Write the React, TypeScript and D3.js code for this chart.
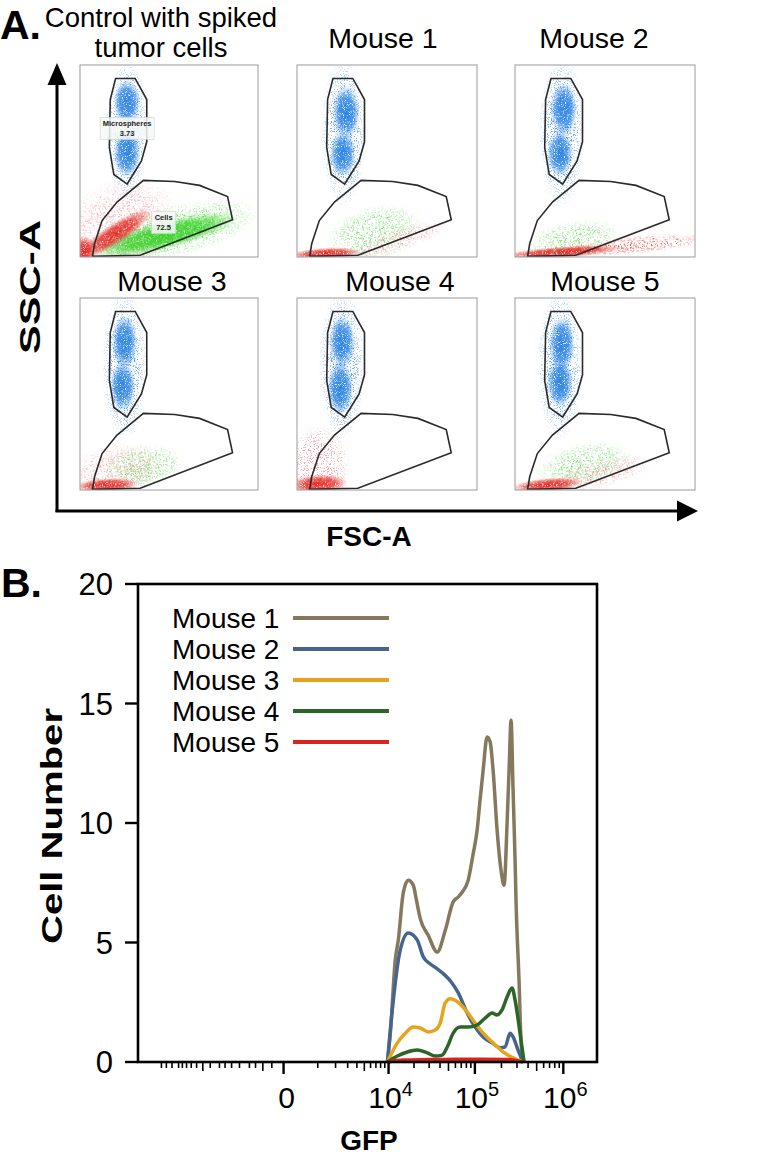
import React from "react";
import * as d3 from "d3";

// ---------------- Panel B data ----------------
const seriesNames = ["Mouse 1", "Mouse 2", "Mouse 3", "Mouse 4", "Mouse 5"];
const seriesColors = ["#85795d", "#45658f", "#e5a41c", "#2d6428", "#d7261e"];

const mouse1GFP = [9700, 10500, 12050, 13080, 15000, 17160, 19630, 21280, 23660, 29260, 37170, 45900, 56600, 64500, 71600, 83800, 95500, 106000, 114700, 124000, 137600, 148800, 160900, 178600, 198200, 214300, 231700, 243900, 257000, 270600, 285000, 292600, 316300, 332900, 350600];
const mouse1Count = [0, 1.2, 4.3, 5.1, 7.1, 7.6, 7.4, 6.8, 6.0, 5.3, 4.6, 5.5, 6.7, 6.9, 7.1, 7.6, 8.7, 9.7, 11.0, 12.2, 13.6, 13.4, 12.2, 9.7, 8.0, 7.4, 10.0, 12.2, 14.3, 11.4, 8.5, 6.7, 3.4, 0.9, 0];

const mouse2GFP = [9700, 11100, 13820, 17160, 21840, 25600, 30900, 37170, 43500, 52400, 64500, 81700, 100700, 124000, 156800, 193000, 220000, 250300, 270600, 308200, 350600];
const mouse2Count = [0, 2.2, 4.7, 5.4, 5.1, 4.4, 4.1, 3.9, 3.7, 3.4, 2.9, 2.05, 1.46, 1.05, 0.8, 0.6, 0.63, 1.2, 1.05, 0.5, 0];

const mouse3GFP = [9700, 12730, 15820, 19630, 23660, 29260, 35280, 40220, 45900, 52400, 64500, 81700, 100700, 124000, 160900, 208700, 270600, 350600];
const mouse3Count = [0, 0.8, 1.2, 1.46, 1.42, 1.26, 1.34, 1.63, 2.47, 2.65, 2.5, 2.09, 1.63, 1.21, 0.8, 0.42, 0.17, 0];

const mouse4GFP = [9700, 12730, 16700, 21840, 28500, 35280, 42400, 48400, 56600, 68000, 83800, 106000, 130700, 156800, 178600, 203100, 231700, 263600, 285000, 324500, 360000];
const mouse4Count = [0, 0.25, 0.42, 0.5, 0.38, 0.25, 0.29, 0.63, 1.21, 1.46, 1.46, 1.55, 1.84, 2.05, 1.97, 2.18, 2.72, 3.1, 2.6, 1.21, 0];

const mouse5GFP = [9700, 15000, 30000, 60000, 120000, 240000, 350600];
const mouse5Count = [0, 0.08, 0.1, 0.12, 0.12, 0.1, 0];

const seriesGFP = [mouse1GFP, mouse2GFP, mouse3GFP, mouse4GFP, mouse5GFP];
const seriesCount = [mouse1Count, mouse2Count, mouse3Count, mouse4Count, mouse5Count];

const yTicks = [0, 5, 10, 15, 20];
const xMajorTicks = [0, 1e4, 1e5, 1e6];
const xLabelBase = ["0", "10", "10", "10"];
const xLabelExp = ["", "4", "5", "6"];
const xMinorTicks = [
  -16000, -14000, -12000, -10000, -9000, -8000, -7000, -6000, -5000, -4000, -3000, -2500, -2000, -1500, -1000, -750, -500, -250,
  1000, 2000, 3000, 4000, 5000, 6000, 7000, 8000, 9000,
  20000, 30000, 40000, 50000, 60000, 70000, 80000, 90000,
  200000, 300000, 400000, 500000, 600000, 700000, 800000, 900000,
];

// ---------------- Panel A data ----------------
const panelTitles = [["Control with spiked", "tumor cells"], ["Mouse 1"], ["Mouse 2"], ["Mouse 3"], ["Mouse 4"], ["Mouse 5"]];
// gates in % of FSC / SSC scale
const beadGate = [[20, 93], [31, 93], [37.5, 82], [37.5, 60], [34.5, 50], [26.5, 38], [19, 43], [16.5, 57], [17, 82]];
const cellGate = [[7, 0.3], [8.2, 7], [12.4, 19], [20.8, 28.6], [35.6, 39.9], [53.2, 39.3], [67.2, 37.3], [82.9, 31.5], [85.7, 19.4], [33.8, 0.9]];
const gateLabels = [["Microspheres", "3.73"], ["Cells", "72.5"]];
const gateLabelPos = [[26.5, 67], [47, 18]];

// populations: [FSC%, SSC%, sdFSC, sdSSC, tiltDeg, kind]
type Blob = [number, number, number, number, number, string];
const controlPops: Blob[] = [
  [26.5, 66, 6.0, 19, 0, "beadScatter"],
  [26.4, 80.6, 3.8, 6.0, 0, "beadCore"],
  [26.4, 54.5, 3.8, 6.5, 0, "beadCore"],
  [22, 16, 18, 12, 25, "pinkSparse"],
  [52, 13, 26, 7, 14, "greenScatter"],
  [48, 11.5, 21, 3.8, 14, "greenCore"],
  [19.7, 12, 12, 2.8, 33, "redCore"],
  [2.5, 3, 2.8, 4.0, 0, "redCore"],
];
const mouse1Pops: Blob[] = [
  [26, 65, 6.5, 20, 0, "beadScatter"],
  [27.3, 75.4, 3.8, 7.0, 0, "beadCore"],
  [25.4, 53.7, 3.6, 6.0, 0, "beadCore"],
  [43, 13, 14, 7, 15, "greenSparse"],
  [55, 8, 16, 3, 20, "pinkSparse"],
  [16, 1.8, 10, 1.5, 3, "redCore"],
];
const mouse2Pops: Blob[] = [
  [26, 65, 6.5, 20, 0, "beadScatter"],
  [27, 77, 3.8, 7.0, 0, "beadCore"],
  [25, 54, 3.6, 6.0, 0, "beadCore"],
  [32, 9, 14, 5, 10, "greenSparse"],
  [64, 6, 24, 2.4, 5, "redScatter"],
  [26, 2.5, 17, 1.5, 4, "redCore"],
];
const mouse3Pops: Blob[] = [
  [25, 65, 6.5, 20, 0, "beadScatter"],
  [25, 77, 3.6, 7.0, 0, "beadCore"],
  [24, 54, 3.6, 6.5, 0, "beadCore"],
  [20, 10, 14, 7, 10, "pinkSparse"],
  [35, 12, 12, 6, 10, "greenSparse"],
  [15, 2.5, 9, 1.8, 3, "redCore"],
];
const mouse4Pops: Blob[] = [
  [25, 65, 6.5, 20, 0, "beadScatter"],
  [25, 77, 3.6, 7.0, 0, "beadCore"],
  [24, 53, 3.6, 7.0, 0, "beadCore"],
  [12, 13, 9, 11, 0, "pinkSparse"],
  [12, 3, 8, 2.6, 3, "redCore"],
];
const mouse5Pops: Blob[] = [
  [25, 65, 6.5, 20, 0, "beadScatter"],
  [26, 76, 3.6, 7.0, 0, "beadCore"],
  [25, 56, 3.6, 6.5, 0, "beadCore"],
  [38, 13, 14, 6, 12, "greenSparse"],
  [46, 8, 16, 4, 15, "pinkSparse"],
  [18, 2.6, 10, 1.8, 5, "redCore"],
];
const panelPops = [controlPops, mouse1Pops, mouse2Pops, mouse3Pops, mouse4Pops, mouse5Pops];

// ---------------- styles / layout ----------------
const FONT = "'Liberation Sans', Arial, Helvetica, sans-serif";
const kindStyle: Record<string, { color: string; filter: string | null; peak: number }> = {
  beadCore: { color: "#2a82e4", filter: "speckDense", peak: 1 },
  beadScatter: { color: "#4a95e8", filter: "speckSparse", peak: 1 },
  greenCore: { color: "#33d022", filter: "speckDense", peak: 1 },
  greenScatter: { color: "#55d646", filter: "speckSparse", peak: 1 },
  greenSparse: { color: "#5ccf4e", filter: "speckSparse", peak: 0.9 },
  redCore: { color: "#e52b25", filter: "speckDense", peak: 1 },
  redScatter: { color: "#e8433c", filter: "speckSparse", peak: 1 },
  pinkSparse: { color: "#e9707c", filter: "speckSparse", peak: 0.7 },
};

const colsX = [[80, 258], [297, 477], [515, 695]];
const rowsY = [[65, 257], [298, 490]];
const titleX = [[161, 383, 594], [172, 400, 605]];
const titleBase = [48, 291];

function FlowPanel({ idx }: { idx: number }) {
  const r = Math.floor(idx / 3);
  const c = idx % 3;
  const [x0, x1] = colsX[c];
  const [y0, y1] = rowsY[r];
  const sx = d3.scaleLinear().domain([0, 100]).range([x0, x1]);
  const sy = d3.scaleLinear().domain([0, 100]).range([y1, y0]);
  const pxX = (x1 - x0) / 100;
  const pxY = (y1 - y0) / 100;
  const line = d3.line<number[]>().x((d) => sx(d[0])).y((d) => sy(d[1])).curve(d3.curveLinearClosed);
  const clipId = `clip${idx}`;
  return (
    <g>
      <clipPath id={clipId}>
        <rect x={x0} y={y0} width={x1 - x0} height={y1 - y0} />
      </clipPath>
      <rect x={x0} y={y0} width={x1 - x0} height={y1 - y0} fill="#fff" />
      <g clipPath={`url(#${clipId})`}>
        {panelPops[idx].map((b, i) => {
          const st = kindStyle[b[5]];
          const cx = sx(b[0]);
          const cy = sy(b[1]);
          return (
            <ellipse
              key={i}
              cx={cx}
              cy={cy}
              rx={b[2] * 2 * pxX}
              ry={b[3] * 2 * pxY}
              transform={`rotate(${-b[4]} ${cx} ${cy})`}
              fill={`url(#grad-${b[5]})`}
              filter={st.filter ? `url(#${st.filter})` : undefined}
            />
          );
        })}
        <path d={line(beadGate) || ""} fill="none" stroke="#2a2a2a" strokeWidth={1.6} />
        <path d={line(cellGate) || ""} fill="none" stroke="#2a2a2a" strokeWidth={1.6} />
        {idx === 0 &&
          gateLabels.map((lab, i) => {
            const lx = sx(gateLabelPos[i][0]);
            const ly = sy(gateLabelPos[i][1]);
            const w = i === 0 ? 54 : 24;
            return (
              <g key={i}>
                <rect x={lx - w / 2} y={ly - 11} width={w} height={22} fill="#f4f8f6" fillOpacity={0.85} stroke="#c8d8d0" strokeWidth={0.6} />
                <text x={lx} y={ly - 2} fontSize={7.5} fontWeight="bold" textAnchor="middle" fontFamily={FONT} fill="#222">{lab[0]}</text>
                <text x={lx} y={ly + 8} fontSize={7.5} fontWeight="bold" textAnchor="middle" fontFamily={FONT} fill="#222">{lab[1]}</text>
              </g>
            );
          })}
      </g>
      <rect x={x0} y={y0} width={x1 - x0} height={y1 - y0} fill="none" stroke="#9a9a9a" strokeWidth={1} />
      {panelTitles[idx].map((t, i) => (
        <text
          key={i}
          x={titleX[r][c]}
          y={idx === 0 ? 27 + i * 30 : titleBase[r]}
          fontSize={idx === 0 ? 27.5 : 28.5}
          textAnchor="middle"
          fontFamily={FONT}
          fill="#000"
        >
          {t}
        </text>
      ))}
    </g>
  );
}

export default function App() {
  // Panel B scales
  const plotL = 138, plotR = 597, plotT = 584, plotB = 1062;
  const x = d3.scaleSymlog().constant(700).domain([-30000, 2400000]).range([plotL, plotR]);
  const y = d3.scaleLinear().domain([0, 20]).range([plotB, plotT]);
  const lineGen = d3
    .line<[number, number]>()
    .x((d) => x(d[0]))
    .y((d) => y(d[1]))
    .curve(d3.curveMonotoneX);

  const minorLen = (v: number) => {
    const a = Math.abs(v);
    const m = a / Math.pow(10, Math.floor(Math.log10(a)));
    return Math.abs(m - 5) < 1e-9 ? 9 : 6;
  };

  return (
    <svg width={757} height={1170} style={{ position: "absolute", left: 0, top: 0, background: "#fff" }} fontFamily={FONT}>
      <defs>
        {Object.keys(kindStyle).map((k) => (
          <radialGradient id={`grad-${k}`} key={k}>
            <stop offset="0%" stopColor={kindStyle[k].color} stopOpacity={kindStyle[k].peak} />
            <stop offset="55%" stopColor={kindStyle[k].color} stopOpacity={kindStyle[k].peak * 0.8} />
            <stop offset="100%" stopColor={kindStyle[k].color} stopOpacity={0} />
          </radialGradient>
        ))}
        <filter id="speckDense" x="-10%" y="-10%" width="120%" height="120%">
          <feTurbulence type="fractalNoise" baseFrequency="1.1" numOctaves="1" seed="4" result="noise" />
          <feColorMatrix in="noise" type="matrix" values="0 0 0 0 0  0 0 0 0 0  0 0 0 0 0  5 0 0 0 -1.3" result="mask" />
          <feComposite in="SourceGraphic" in2="mask" operator="in" />
        </filter>
        <filter id="speckSparse" x="-10%" y="-10%" width="120%" height="120%">
          <feTurbulence type="fractalNoise" baseFrequency="1.3" numOctaves="1" seed="9" result="noise" />
          <feColorMatrix in="noise" type="matrix" values="0 0 0 0 0  0 0 0 0 0  0 0 0 0 0  9 0 0 0 -4.9" result="mask" />
          <feComposite in="SourceGraphic" in2="mask" operator="in" />
        </filter>
      </defs>
      <rect x={0} y={0} width={757} height={1170} fill="#fff" />

      {/* ---------- Panel A ---------- */}
      <text x={0} y={39} fontSize={41} fontWeight="bold" fill="#000">A.</text>
      {[0, 1, 2, 3, 4, 5].map((i) => (
        <FlowPanel key={i} idx={i} />
      ))}
      <line x1={57} y1={512} x2={57} y2={80} stroke="#000" strokeWidth={3} />
      <polygon points="57,63 47.5,85 66.5,85" fill="#000" />
      <line x1={55.5} y1={511} x2={682} y2={511} stroke="#000" strokeWidth={3} />
      <polygon points="698,511 677,500.5 677,521.5" fill="#000" />
      <text transform="translate(40,287) rotate(-90)" fontSize={30} fontWeight="bold" textAnchor="middle" textLength={134} lengthAdjust="spacingAndGlyphs" fill="#000">SSC-A</text>
      <text x={369} y={546} fontSize={28} fontWeight="bold" textAnchor="middle" fill="#000">FSC-A</text>

      {/* ---------- Panel B ---------- */}
      <text x={1} y={597} fontSize={41} fontWeight="bold" fill="#000">B.</text>
      {seriesNames.map((n, i) => {
        const pts = seriesGFP[i].map((g, j) => [g, seriesCount[i][j]] as [number, number]);
        return <path key={n} d={lineGen(pts) || ""} fill="none" stroke={seriesColors[i]} strokeWidth={3.5} strokeLinejoin="round" />;
      })}
      <rect x={plotL} y={plotT} width={plotR - plotL} height={plotB - plotT} fill="none" stroke="#000" strokeWidth={2.6} />
      {yTicks.map((t) => (
        <g key={t}>
          <line x1={plotL - 13} x2={plotL} y1={y(t)} y2={y(t)} stroke="#000" strokeWidth={2.4} />
          <text x={113} y={y(t) + 11} fontSize={31} textAnchor="end" fill="#000">{t}</text>
        </g>
      ))}
      {xMinorTicks.map((t) => (
        <line key={t} x1={x(t)} x2={x(t)} y1={plotB} y2={plotB + minorLen(t)} stroke="#000" strokeWidth={1.6} />
      ))}
      {xMajorTicks.map((t, i) => (
        <g key={t}>
          <line x1={x(t)} x2={x(t)} y1={plotB} y2={plotB + 12} stroke="#000" strokeWidth={2.4} />
          <text x={x(t) + (i === 0 ? 3 : 2)} y={1108} fontSize={30} textAnchor="middle" fill="#000">
            <tspan>{xLabelBase[i]}</tspan>
            {xLabelExp[i] && (
              <tspan dy={-12} fontSize={20}>{xLabelExp[i]}</tspan>
            )}
          </text>
        </g>
      ))}
      {seriesNames.map((n, i) => (
        <g key={n}>
          <text x={172} y={628 + i * 31} fontSize={28} fill="#000">{n}</text>
          <line x1={293} x2={389} y1={618 + i * 31} y2={618 + i * 31} stroke={seriesColors[i]} strokeWidth={4} />
        </g>
      ))}
      <text transform="translate(62,826) rotate(-90)" fontSize={29} fontWeight="bold" textAnchor="middle" textLength={236} lengthAdjust="spacingAndGlyphs" fill="#000">Cell Number</text>
      <text x={369} y={1150} fontSize={28} fontWeight="bold" textAnchor="middle" fill="#000">GFP</text>
    </svg>
  );
}
